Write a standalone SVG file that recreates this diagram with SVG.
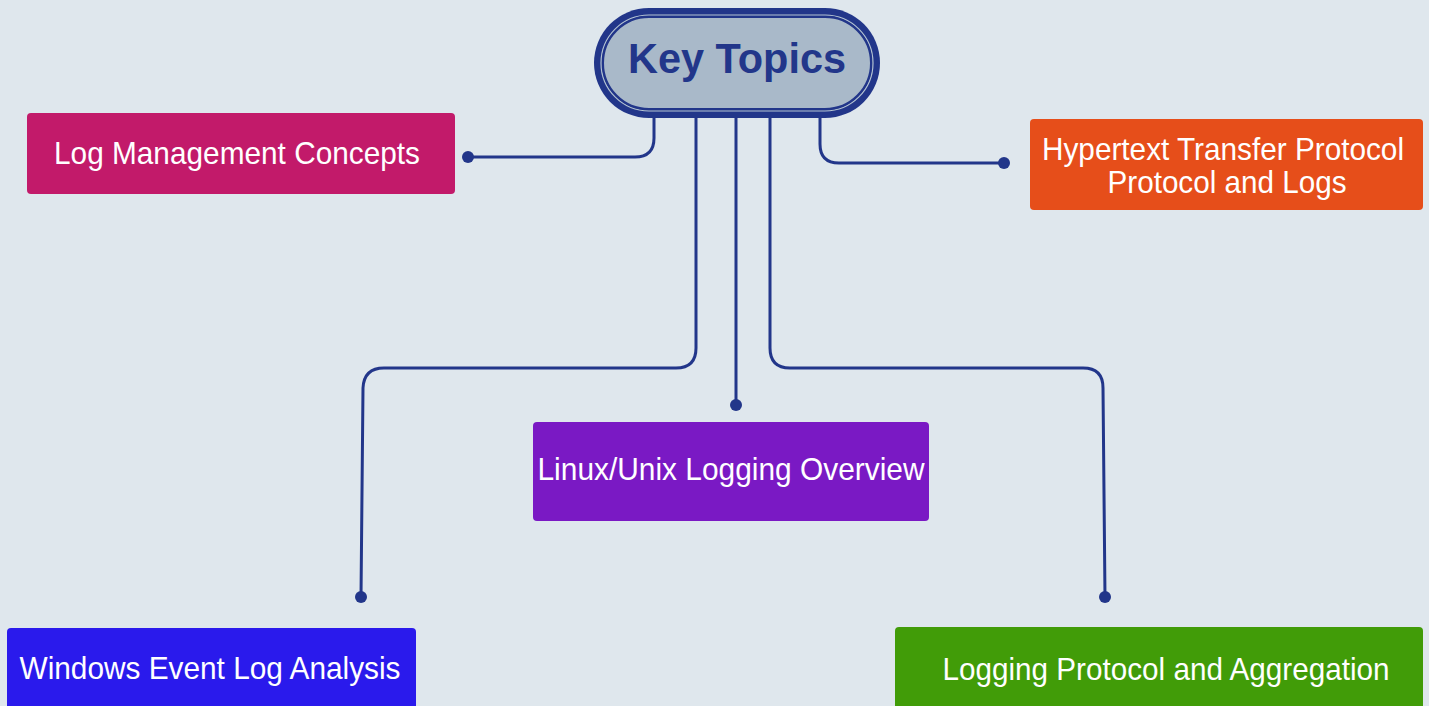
<svg xmlns="http://www.w3.org/2000/svg" width="1429" height="706" viewBox="0 0 1429 706">
<defs>
<style>
.bg{fill:#dfe7ed}
.lbl{font-family:"Liberation Sans",Arial,sans-serif;font-size:32px;fill:#ffffff;text-anchor:middle}
.title{font-family:"Liberation Sans",Arial,sans-serif;font-size:43px;font-weight:bold;fill:#22368a;text-anchor:middle}
.conn{fill:none;stroke:#22368a;stroke-width:3}
.dot{fill:#22368a}
</style>
</defs>
<rect class="bg" x="0" y="0" width="1429" height="706"/>
<g id="connectors">
<path class="conn" d="M654 116 V138 Q654 157 635 157 H468"/>
<circle class="dot" cx="468" cy="157" r="6"/>
<path class="conn" d="M820 116 V144 Q820 163 839 163 H1004"/>
<circle class="dot" cx="1004" cy="163" r="6"/>
<path class="conn" d="M696 116 V348 Q696 368 676 368 H384 Q364 368 363 388 L361 597"/>
<circle class="dot" cx="361" cy="597" r="6"/>
<path class="conn" d="M736 116 V405"/>
<circle class="dot" cx="736" cy="405" r="6"/>
<path class="conn" d="M770 116 V348 Q770 368 790 368 H1083 Q1103 368 1103 388 L1105 597"/>
<circle class="dot" cx="1105" cy="597" r="6"/>
</g>
<g id="key-topics">
<rect x="594" y="8" width="286" height="110" rx="55" fill="#22368a"/>
<rect x="601" y="15" width="272" height="96" rx="48" fill="none" stroke="#b4c3d2" stroke-width="1.2"/>
<rect x="603" y="17" width="268" height="92" rx="46" fill="#a9b9c9" stroke="#22368a" stroke-width="2"/>
<text class="title" x="737" y="73" textLength="218" lengthAdjust="spacingAndGlyphs">Key Topics</text>
</g>
<g id="log-management">
<rect x="27" y="113" width="428" height="81" rx="4" fill="#c21a6a"/>
<text class="lbl" x="237" y="164" textLength="366" lengthAdjust="spacingAndGlyphs">Log Management Concepts</text>
</g>
<g id="http">
<rect x="1030" y="119" width="393" height="91" rx="4" fill="#e64e1a"/>
<text class="lbl" x="1223" y="160" textLength="362" lengthAdjust="spacingAndGlyphs">Hypertext Transfer Protocol</text>
<text class="lbl" x="1227" y="193" textLength="239" lengthAdjust="spacingAndGlyphs">Protocol and Logs</text>
</g>
<g id="linux">
<rect x="533" y="422" width="396" height="99" rx="4" fill="#7a19c4"/>
<text class="lbl" x="731" y="480" textLength="387" lengthAdjust="spacingAndGlyphs">Linux/Unix Logging Overview</text>
</g>
<g id="windows">
<rect x="7" y="628" width="409" height="86" rx="4" fill="#2a1aec"/>
<text class="lbl" x="210" y="679" textLength="381" lengthAdjust="spacingAndGlyphs">Windows Event Log Analysis</text>
</g>
<g id="logging-protocol">
<rect x="895" y="627" width="528" height="87" rx="4" fill="#419c08"/>
<text class="lbl" x="1166" y="680" textLength="447" lengthAdjust="spacingAndGlyphs">Logging Protocol and Aggregation</text>
</g>
</svg>
